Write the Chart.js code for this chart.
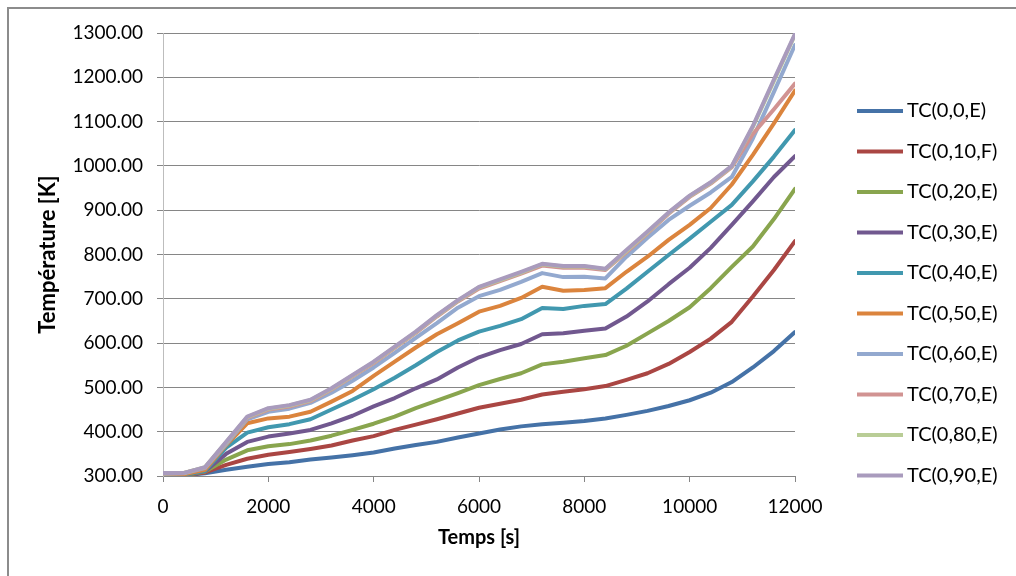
<!DOCTYPE html>
<html>
<head>
<meta charset="utf-8">
<script src="https://cdn.jsdelivr.net/npm/chart.js@4/dist/chart.umd.min.js"></script>
<style>
  html, body { margin: 0; padding: 0; background: #fff; }
  #cadre { position: absolute; left: 0; top: 0; width: 1016px; height: 576px; overflow: hidden; }
  #bord { position: absolute; left: 7px; top: 7px; right: -4px; bottom: -4px;
          border-left: 2px solid #8c8c8c; border-top: 2px solid #8c8c8c; pointer-events: none; }
</style>
</head>
<body>
<div id="cadre">
  <canvas id="graphique" width="1016" height="576"></canvas>
  <div id="bord"></div>
</div>
<script>
// --- Données ---
const temps = [0, 400, 800, 1200, 1600, 2000, 2400, 2800, 3200, 3600, 4000, 4400, 4800, 5200, 5600,
  6000, 6400, 6800, 7200, 7600, 8000, 8400, 8800, 9200, 9600, 10000, 10400, 10800, 11200, 11600, 12000];

const etiquettes = ['TC(0,0,E)', 'TC(0,10,F)', 'TC(0,20,E)', 'TC(0,30,E)', 'TC(0,40,E)',
  'TC(0,50,E)', 'TC(0,60,E)', 'TC(0,70,E)', 'TC(0,80,E)', 'TC(0,90,E)'];

const tc_0_0  = [300,302,306,314,321,327,331,337,342,347,353,362,370,377,387,396,405,412,417,420,424,430,438,447,458,471,488,512,545,582,625];
const tc_0_10 = [300,302,308,325,339,348,354,361,369,380,390,404,416,428,441,454,463,472,484,490,496,503,517,532,553,580,610,648,705,765,830];
const tc_0_20 = [301,302,310,337,358,367,372,380,391,404,418,434,453,470,487,505,519,532,552,558,566,573,594,622,650,681,724,772,818,880,948];
const tc_0_30 = [302,303,311,350,377,389,396,404,419,436,457,476,498,518,545,568,584,598,620,622,628,633,660,694,733,770,815,867,920,975,1022];
const tc_0_40 = [302,303,312,364,398,410,417,428,450,472,496,522,550,580,606,626,639,654,679,677,684,688,723,761,799,836,874,912,965,1021,1081];
const tc_0_50 = [303,304,314,370,419,430,434,445,468,492,526,558,590,620,645,671,684,702,727,718,720,724,761,795,833,867,905,958,1025,1096,1170];
const tc_0_60 = [305,306,318,372,428,445,452,465,488,515,545,578,612,645,680,706,720,738,758,749,750,746,795,838,878,910,940,975,1062,1167,1273];
const tc_0_70 = [306,307,319,375,431,450,457,469,495,525,555,589,623,660,694,723,740,757,775,770,770,765,805,848,892,930,960,997,1072,1128,1186];
const tc_0_80 = [306,307,320,376,433,452,459,471,497,527,557,591,625,662,696,726,742,759,778,773,773,767,808,850,894,932,962,999,1088,1192,1296];
const tc_0_90 = [307,307,320,377,434,453,460,472,498,528,558,592,626,663,697,727,744,761,779,774,774,768,810,852,895,933,963,1000,1090,1195,1298];

const series = [tc_0_0, tc_0_10, tc_0_20, tc_0_30, tc_0_40, tc_0_50, tc_0_60, tc_0_70, tc_0_80, tc_0_90];

// couleurs Excel 2007
const couleurs = ['#4572A7', '#AA4643', '#89A54E', '#71588F', '#4198AF',
  '#DB843D', '#93A9CF', '#D19392', '#B9CD96', '#A99BBD'];

const police = 'Lato, "Open Sans", sans-serif';

// --- Légende à droite, façon Excel ---
const legendeExcel = {
  id: 'legendeExcel',
  afterDraw(chart) {
    const ctx = chart.ctx;
    ctx.save();
    ctx.font = '20px ' + police;
    ctx.textBaseline = 'middle';
    chart.data.datasets.forEach((ds, i) => {
      const y = 111 + i * 40.5;
      ctx.strokeStyle = ds.borderColor;
      ctx.lineWidth = 4;
      ctx.beginPath();
      ctx.moveTo(857, y);
      ctx.lineTo(903, y);
      ctx.stroke();
      ctx.fillStyle = '#000';
      ctx.fillText(ds.label, 907, y);
    });
    ctx.restore();
  }
};

new Chart(document.getElementById('graphique'), {
  type: 'line',
  data: {
    datasets: series.map((serie, i) => ({
      label: etiquettes[i],
      data: temps.map((t, k) => ({ x: t, y: serie[k] })),
      borderColor: couleurs[i],
      backgroundColor: couleurs[i],
      borderWidth: 4,
      pointRadius: 0,
      tension: 0,
      fill: false,
      borderJoinStyle: 'round',
      borderCapStyle: 'round',
      order: series.length - 1 - i   // la dernière série passe au-dessus
    }))
  },
  options: {
    responsive: false,
    animation: false,
    devicePixelRatio: 1,
    layout: { padding: { top: 33, right: 221, bottom: 0, left: 0 } },
    plugins: {
      legend: { display: false },
      tooltip: { enabled: false }
    },
    scales: {
      x: {
        type: 'linear',
        min: 0,
        max: 12000,
        ticks: {
          stepSize: 2000,
          maxRotation: 0,
          padding: 13,
          color: '#000',
          font: { family: police, size: 19 },
          callback: v => String(v)
        },
        grid: { drawOnChartArea: false, drawTicks: true, tickLength: 6, color: '#868686' },
        border: { color: '#868686', width: 1 },
        title: {
          display: true,
          text: 'Temps [s]',
          color: '#000',
          font: { family: police, size: 20, weight: 'bold' },
          padding: { top: 0, bottom: 26 }
        },
        afterFit: axe => { axe.height = 100; axe.paddingLeft = 0; axe.paddingRight = 0; }
      },
      y: {
        min: 300,
        max: 1300,
        ticks: {
          stepSize: 100,
          padding: 14,
          color: '#000',
          font: { family: police, size: 19 },
          callback: v => v.toFixed(2)
        },
        grid: { color: '#868686', tickLength: 6 },
        border: { color: '#bdbdbd', width: 1 },
        title: {
          display: true,
          text: 'Température [K]',
          color: '#000',
          font: { family: police, size: 22, weight: 'bold' },
          padding: { top: 35, bottom: 0 }
        },
        afterFit: axe => { axe.width = 163; axe.paddingTop = 0; axe.paddingBottom = 0; }
      }
    }
  },
  plugins: [legendeExcel]
});
</script>
</body>
</html>
